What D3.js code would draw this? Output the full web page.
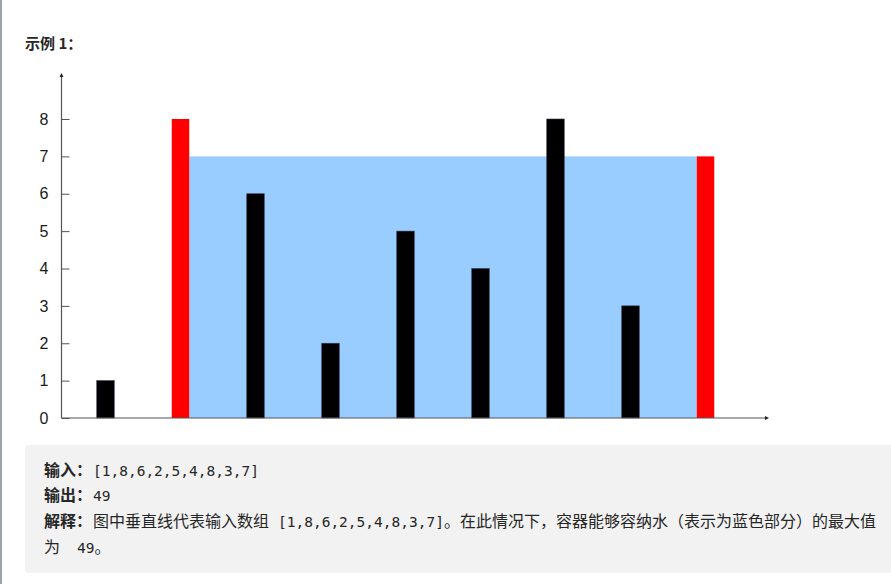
<!DOCTYPE html>
<html>
<head>
<meta charset="utf-8">
<script src="https://cdn.jsdelivr.net/npm/d3@7.9.0/dist/d3.min.js"></script>
<style>
  html, body { margin: 0; padding: 0; background: #fff; }
  svg { display: block; }
  .cjk { font-family: "Noto Sans CJK SC", sans-serif; }
  .mono { font-family: "DejaVu Sans Mono", "Liberation Mono", monospace; }
</style>
</head>
<body>
<svg id="page" width="891" height="584"></svg>
<script>
// Input heights (one vertical line per index)
const heights = [1, 8, 6, 2, 5, 4, 8, 3, 7];
const yTicks = [0, 1, 2, 3, 4, 5, 6, 7, 8];
const title = "示例 1：";
const inputLabel = "输入：";
const outputLabel = "输出：";
const explainLabel = "解释：";
const explainText1 = "图中垂直线代表输入数组";
const explainText2 = "。在此情况下，容器能够容纳水（表示为蓝色部分）的最大值";

// find the two lines that hold the most water
let best = { area: 0, l: 0, r: 0 };
for (let l = 0; l < heights.length; l++) {
  for (let r = l + 1; r < heights.length; r++) {
    const area = Math.min(heights[l], heights[r]) * (r - l);
    if (area > best.area) best = { area, l, r };
  }
}
const level = Math.min(heights[best.l], heights[best.r]);

const svg = d3.select('#page');

// left page border
svg.append('rect').attr('x', 0).attr('y', 0).attr('width', 2).attr('height', 584).attr('fill', '#9ea3aa');

// title
svg.append('text')
  .attr('class', 'cjk')
  .attr('x', 25).attr('y', 49)
  .attr('font-size', 15).attr('font-weight', 'bold').attr('fill', '#262626')
  .text(title);

const x = d3.scalePoint()
  .domain(d3.range(heights.length))
  .range([105.5, 705.5]);

const y = d3.scaleLinear()
  .domain([0, 8])
  .range([418, 119]);

const barW = 17.5;

const chart = svg.append('g');

// water area between the chosen walls
chart.append('rect')
  .attr('x', x(best.l) + barW / 2)
  .attr('y', y(level))
  .attr('width', x(best.r) - x(best.l) - barW)
  .attr('height', y(0) - y(level))
  .attr('fill', '#99ccff');

// vertical lines
chart.selectAll('rect.bar')
  .data(heights)
  .join('rect')
  .attr('class', 'bar')
  .attr('x', (d, i) => x(i) - barW / 2)
  .attr('y', d => y(d))
  .attr('width', barW)
  .attr('height', d => y(0) - y(d))
  .attr('fill', (d, i) => (i === best.l || i === best.r) ? '#ff0000' : '#000')
  .attr('stroke', (d, i) => (i === best.l || i === best.r) ? 'none' : '#33384a')
  .attr('stroke-width', 0.6);

// y axis ticks and labels
const yAxis = d3.axisLeft(y)
  .tickValues(yTicks)
  .tickSize(-8)
  .tickPadding(13)
  .tickFormat(d3.format('d'));

const gy = chart.append('g')
  .attr('transform', 'translate(61.5,0)')
  .call(yAxis);
gy.select('.domain').remove();
gy.selectAll('.tick line').attr('stroke', '#555');
gy.selectAll('.tick text')
  .attr('font-family', 'Liberation Sans, Arial, sans-serif')
  .attr('font-size', 16)
  .attr('fill', '#1a1a1a');

// axis lines with small arrow heads
chart.append('line')
  .attr('x1', 61.5).attr('y1', y(0)).attr('x2', 61.5).attr('y2', 75)
  .attr('stroke', '#555').attr('stroke-width', 1.2);
chart.append('path')
  .attr('d', d3.line()([[59.5, 77], [61.5, 73], [63.5, 77]]) + 'Z')
  .attr('fill', '#222');
chart.append('line')
  .attr('x1', 61.5).attr('y1', y(0)).attr('x2', 767).attr('y2', y(0))
  .attr('stroke', '#555').attr('stroke-width', 1.2);
chart.append('path')
  .attr('d', d3.line()([[765, y(0) - 2], [769, y(0)], [765, y(0) + 2]]) + 'Z')
  .attr('fill', '#222');

// example box
svg.append('rect')
  .attr('x', 25).attr('y', 445)
  .attr('width', 880).attr('height', 128)
  .attr('rx', 4)
  .attr('fill', '#f2f2f2');

const arrText = '[' + heights.join(',') + ']';

function line(yPos) {
  return svg.append('text').attr('y', yPos).attr('font-size', 16).attr('fill', '#262626');
}

const l1 = line(476);
l1.append('tspan').attr('class', 'cjk').attr('x', 44).attr('font-weight', 'bold').text(inputLabel);
l1.append('tspan').attr('class', 'mono').attr('x', 93).attr('font-size', 14.5).text(arrText);

const l2 = line(501);
l2.append('tspan').attr('class', 'cjk').attr('x', 44).attr('font-weight', 'bold').text(outputLabel);
l2.append('tspan').attr('class', 'mono').attr('x', 93).attr('font-size', 14.5).text(best.area);

const l3 = line(527);
l3.append('tspan').attr('class', 'cjk').attr('x', 44).attr('font-weight', 'bold').text(explainLabel);
l3.append('tspan').attr('class', 'cjk').attr('x', 93).text(explainText1);
l3.append('tspan').attr('class', 'mono').attr('x', 278).attr('font-size', 14.5).text(arrText);
l3.append('tspan').attr('class', 'cjk').attr('x', 444).text(explainText2);

const l4 = line(553);
l4.append('tspan').attr('class', 'cjk').attr('x', 44).text('为');
l4.append('tspan').attr('class', 'mono').attr('x', 77).attr('font-size', 14.5).text(best.area);
l4.append('tspan').attr('class', 'cjk').text('。');
</script>
</body>
</html>
